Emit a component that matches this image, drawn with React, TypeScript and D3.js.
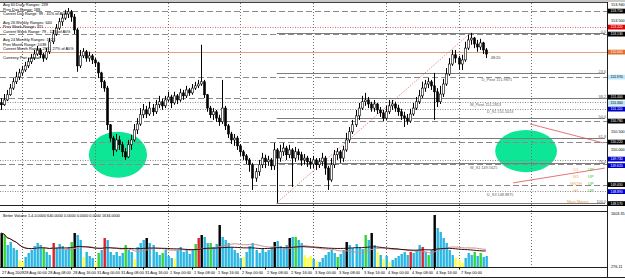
import React from "react";
import * as d3 from "d3";

const W = 625;
const H = 279;

// ---------- DATA ----------
const FIRST_OPEN = 151.27;
const CLOSE = [
  151.22, 151.35, 151.49, 151.67, 151.84, 151.97, 152.08, 152.16, 152.27, 152.38,
  152.48, 152.59, 152.70, 152.57, 152.48, 152.65, 152.92, 153.13, 153.29, 153.46,
  153.56, 153.67, 153.73, 153.59, 153.24, 152.27, 152.54, 152.65, 152.48, 152.54,
  152.43, 152.35, 152.08, 151.84, 151.67, 150.68, 150.32, 150.00, 150.27, 150.14,
  149.95, 149.81, 150.14, 150.27, 150.54, 150.70, 150.95, 151.08, 150.97, 151.13,
  151.03, 151.22, 151.30, 151.19, 151.35, 151.43, 151.27, 151.46, 151.35, 151.54,
  151.46, 151.62, 151.54, 151.67, 151.73, 151.78, 151.84, 151.49, 151.13, 150.95,
  151.03, 150.86, 150.76, 151.13, 150.65, 150.43, 150.27, 150.32, 150.11, 149.95,
  149.84, 149.73, 149.60, 149.24, 149.41, 149.60, 149.78, 149.68, 149.73, 149.57,
  150.00, 149.78, 149.95, 150.05, 149.87, 150.00, 149.78, 149.95, 149.87, 149.73,
  149.78, 149.68, 149.62, 149.73, 149.60, 149.68, 149.78, 149.51, 149.19, 149.60,
  149.87, 149.95, 149.78, 150.00, 150.27, 150.49, 150.68, 150.92, 151.13, 151.30,
  151.35, 151.24, 151.13, 151.24, 151.08, 151.00, 150.86, 151.03, 151.19, 151.24,
  151.13, 151.03, 150.92, 150.86, 150.78, 150.97, 151.13, 151.30, 151.46, 151.67,
  151.78, 151.84, 151.73, 151.57, 151.30, 151.51, 151.78, 152.05, 152.32, 152.57,
  152.48, 152.32, 152.43, 152.75, 152.97, 153.02, 152.86, 152.78, 152.89, 152.70,
  152.59,
];
const HIGH = [
  151.40, 151.51, 151.62, 151.78, 151.94, 152.11, 152.19, 152.27, 152.38, 152.48,
  152.59, 152.70, 152.81, 152.75, 152.62, 152.75, 153.02, 153.24, 153.40, 153.56,
  153.67, 153.78, 153.83, 153.78, 153.67, 153.29, 152.70, 152.75, 152.70, 152.65,
  152.59, 152.48, 152.38, 152.11, 151.89, 151.73, 150.70, 150.38, 150.43, 150.38,
  150.22, 150.05, 150.27, 150.41, 150.70, 150.86, 151.13, 151.24, 151.19, 151.30,
  151.24, 151.35, 151.46, 151.38, 151.46, 151.57, 151.49, 151.57, 151.51, 151.65,
  151.62, 151.73, 151.67, 151.78, 151.84, 151.89, 152.84, 151.89, 151.51, 151.19,
  151.13, 151.08, 150.95, 151.89, 151.19, 150.70, 150.49, 150.43, 150.38, 150.16,
  150.00, 149.89, 149.78, 149.65, 149.51, 149.73, 149.92, 149.87, 149.84, 149.78,
  150.19, 150.05, 150.14, 150.19, 150.11, 150.14, 150.05, 150.08, 150.03, 149.95,
  149.89, 149.84, 149.78, 149.84, 149.78, 149.78, 149.92, 149.84, 149.57, 149.78,
  150.00, 150.05, 150.00, 150.11, 150.46, 150.62, 150.81, 151.08, 151.27, 151.46,
  151.54, 151.43, 151.30, 151.35, 151.27, 151.16, 151.08, 151.19, 151.35, 151.35,
  151.30, 151.22, 151.11, 151.03, 150.97, 151.11, 151.27, 151.43, 151.62, 151.84,
  151.89, 151.94, 151.89, 152.08, 151.67, 151.73, 151.92, 152.21, 152.48, 152.70,
  152.70, 152.54, 152.57, 152.92, 153.11, 153.16, 153.05, 152.97, 153.00, 152.92,
  152.75,
];
const LOW = [
  151.08, 151.19, 151.32, 151.46, 151.62, 151.78, 151.89, 152.00, 152.11, 152.21,
  152.32, 152.43, 152.54, 152.48, 152.38, 152.43, 152.59, 152.86, 153.08, 153.24,
  153.35, 153.51, 153.56, 153.46, 153.13, 152.11, 152.21, 152.48, 152.38, 152.38,
  152.32, 152.24, 151.94, 151.67, 151.57, 150.54, 150.22, 149.84, 149.95, 150.00,
  149.81, 149.73, 149.78, 150.00, 150.22, 150.43, 150.65, 150.86, 150.86, 150.92,
  150.92, 150.97, 151.13, 151.08, 151.13, 151.30, 151.13, 151.22, 151.24, 151.30,
  151.35, 151.40, 151.46, 151.49, 151.62, 151.67, 151.73, 151.40, 151.03, 150.86,
  150.81, 150.76, 150.65, 150.70, 150.54, 150.32, 150.16, 150.11, 150.00, 149.84,
  149.73, 149.62, 149.41, 148.92, 149.14, 149.30, 149.51, 149.51, 149.57, 149.46,
  149.46, 148.57, 149.68, 149.84, 149.73, 149.78, 149.00, 149.68, 149.73, 149.57,
  149.60, 149.54, 149.49, 149.51, 149.46, 149.51, 149.57, 149.33, 148.92, 149.14,
  149.51, 149.73, 149.65, 149.68, 149.95, 150.19, 150.43, 150.62, 150.81, 151.08,
  151.19, 151.13, 151.03, 151.03, 150.97, 150.89, 150.78, 150.81, 150.97, 151.08,
  151.03, 150.92, 150.81, 150.62, 150.68, 150.73, 150.92, 151.08, 151.24, 151.40,
  151.57, 151.67, 151.62, 150.81, 151.16, 151.24, 151.43, 151.73, 152.00, 152.27,
  152.35, 152.16, 152.16, 152.38, 152.70, 152.84, 152.75, 152.65, 152.70, 152.59,
  152.48,
];

const VOLUME = [
  1126, 1076, 826, 901, 751, 701, 451, 401, 526, 626,
  701, 801, 876, 826, 751, 651, 576, 876, 751, 851,
  801, 701, 776, 901, 1126, 1076, 951, 526, 651, 551,
  501, 376, 626, 701, 1001, 951, 651, 576, 651, 551,
  626, 826, 701, 651, 476, 776, 876, 951, 1001, 876,
  826, 651, 576, 626, 701, 551, 501, 476, 701, 776,
  651, 726, 601, 701, 851, 1001, 1076, 1026, 876, 876,
  776, 851, 1326, 1026, 951, 876, 776, 701, 626, 501,
  526, 651, 801, 876, 701, 626, 751, 651, 701, 776,
  901, 926, 801, 726, 826, 1001, 1026, 1026, 951, 876,
  576, 501, 551, 476, 426, 401, 501, 576, 651, 701,
  626, 526, 601, 701, 901, 826, 751, 851, 776, 726,
  1076, 951, 1126, 826, 651, 576, 476, 551, 401, 451,
  501, 551, 601, 651, 576, 651, 626, 701, 826, 776,
  651, 576, 701, 1576, 1251, 1151, 1001, 876, 701, 576,
  501, 451, 376, 501, 626, 576, 651, 551, 626, 526,
  551,
];
// k = climax (black), g = churn (green), r = climax high (red), y = low volume (yellow), c = normal
const VOL_TYPE =
  "kgccccyycc" + "ccccgccrcc" + "cccgkccycc" + "cygcrccccc" + "cgccyccckc" +
  "cccgcccycc" + "ccccgrkccg" + "cckccccccc" + "yccccccccc" + "kcccckcgcc" +
  "yyycyccccc" + "cgcckccccc" + "gckcycycyc" + "cccccrcccr" + "cgckcccccc" +
  "yyycccgcgcc";

const TIME_LABELS = [
  "28 Aug 00:00", "28 Aug 08:00", "28 Aug 16:00",
  "31 Aug 00:00", "31 Aug 08:00", "31 Aug 16:00",
  "1 Sep 00:00", "1 Sep 08:00", "1 Sep 16:00",
  "2 Sep 00:00", "2 Sep 08:00", "2 Sep 16:00",
  "3 Sep 00:00", "3 Sep 08:00", "3 Sep 16:00",
  "4 Sep 00:00", "4 Sep 08:00", "4 Sep 16:00",
  "7 Sep 00:00",
];
const TIME_LABEL_BARS = [7, 15, 23, 31, 39, 47, 55, 63, 71, 79, 87, 95, 103, 111, 119, 127, 135, 143, 151];
const FIRST_TIME_LABEL = "27 Aug 2009";
const DAY_SEPARATOR_BARS = [7, 31, 55, 79, 103, 127, 151, 175];

const PIVOT_DASHED = [153.75, 153.13, 151.97, 151.40, 150.78, 150.22, 149.62, 149.05];
const PIVOT_DOTTED = [151.30, 151.11, 149.73, 148.89];
const RED_DOTTED_LEVEL = 153.32;
const BID_LEVEL = 152.65;

const FIB_LEVELS = [0, 23.6, 38.2, 50, 61.8, 76.4, 100];
const FIB_LEVEL_TEXT = ["0.0", "23.6", "38.2", "50.0", "61.8", "76.4", "100.0"];
const FIB_FROM = { bar: 91, price: 148.57 };
const FIB_TO = { bar: 155, price: 153.16 };

const TRENDLINES = [
  { bar1: 174.6, p1: 150.70, bar2: 198.7, p2: 150.19 },
  { bar1: 169.0, p1: 149.11, bar2: 199.3, p2: 149.51 },
];
const ELLIPSES = [
  { bar: 38.6, price: 149.87, rBars: 9.6, rPrice: 0.62 },
  { bar: 173.3, price: 149.97, rBars: 10.2, rPrice: 0.57 },
];

const INFO_LINES = [
  "Avg 60 Daily Ranges: 239",
  "Prev Day Range: 188",
  "Current Day Range: 99 - 41% of AVG",
  "Avg 26 Weekly Ranges: 640",
  "Prev Week Range: 371",
  "Current Week Range: 79 - 12% of AVG",
  "Avg 24 Monthly Ranges: 1623",
  "Prev Month Range: 1038",
  "Current Month Range: 283 - 27% of AVG",
  "Currency Pair spread: 3",
];

const PIVOT_LABELS = [
  { text: "D_Pivot 151.9875", bar: 158.7, price: 151.97 },
  { text: "W_Pivot 151.2813", bar: 154.8, price: 151.30 },
  { text: "D_S1 151.1013", bar: 160.4, price: 151.11 },
  { text: "W_S1 149.5625", bar: 154.8, price: 149.62 },
  { text: "D_S3 148.8875", bar: 160.4, price: 148.89 },
];
const TIMER_TEXT = "48:20";

const TREND_ROWS = ["D1", "W1", "MNTH", "H4"];
const TREND_STATE = ["UP", "UP", "UP", "UP"];
const TREND_TITLE = "Main Moves";

const VOL_TITLE = "Better Volume 1.4-0.0000 640.0000 0.0000 0.0000 0.0000 1634.0000";
const VOL_AXIS_LABELS = [1603.35, 276.11];

// ---------- LAYOUT ----------
const PLOT_RIGHT = 607;
const MAIN_TOP = 3;
const MAIN_BOTTOM = 205.5;
const VOL_TOP = 211.5;
const VOL_BOTTOM = 267.5;
const AXIS_BOTTOM = 277;
const FONT = "'Liberation Sans', Arial, sans-serif";

const VOL_COLORS: Record<string, string> = {
  c: "#2BB6E4",
  k: "#000000",
  g: "#33D633",
  r: "#E0202A",
  y: "#FFFF40",
};

function sma(arr: number[], n: number) {
  return arr.map((_, i) => {
    const s = Math.max(0, i - n + 1);
    return d3.mean(arr.slice(s, i + 1)) as number;
  });
}

export default function App() {
  const x = d3.scaleLinear().domain([0, 160]).range([1, 1 + 3.03 * 160]);
  const y = d3.scaleLinear().domain([148.54, 153.94]).range([204, 4]);
  const yv = d3.scaleLinear().domain([276, 1626]).range([267, 213]);
  const fmt = d3.format(".3f");

  const candles = CLOSE.map((c, i) => {
    const o = i === 0 ? FIRST_OPEN : CLOSE[i - 1];
    const h = Math.max(HIGH[i], o, c);
    const l = Math.min(LOW[i], o, c);
    return { i, o, c, h, l };
  });

  const fibPrice = (lv: number) => FIB_TO.price - (FIB_TO.price - FIB_FROM.price) * (lv / 100);

  const maSlow = sma(VOLUME, 60);
  const maFast = sma(VOLUME, 20);
  const line = d3
    .line<number>()
    .x((_, i) => x(i))
    .y((d) => yv(d));

  const markers: { p: number; bg: string; fg: string; dy: number }[] = [
    { p: 153.75, bg: "#000", fg: "#fff", dy: 0 },
    { p: RED_DOTTED_LEVEL, bg: "#E00000", fg: "#fff", dy: 0 },
    { p: 153.13, bg: "#000", fg: "#fff", dy: 0 },
    { p: BID_LEVEL, bg: "#E07030", fg: "#fff", dy: 0 },
    { p: 151.97, bg: "#BDE8FA", fg: "#000", dy: 0 },
    { p: 151.40, bg: "#000", fg: "#fff", dy: -1 },
    { p: 151.30, bg: "#BDE8FA", fg: "#000", dy: 1 },
    { p: 151.11, bg: "#0000C8", fg: "#fff", dy: 0 },
    { p: 150.78, bg: "#000", fg: "#fff", dy: 0 },
    { p: 150.22, bg: "#000", fg: "#fff", dy: 0 },
    { p: 149.73, bg: "#0000C8", fg: "#fff", dy: -1 },
    { p: 149.62, bg: "#0000C8", fg: "#fff", dy: 1.5 },
    { p: 149.05, bg: "#000", fg: "#fff", dy: -0.5 },
    { p: 148.89, bg: "#0000C8", fg: "#fff", dy: 0.5 },
    { p: 148.57, bg: "#000", fg: "#fff", dy: 0.5 },
  ];
  const markerYs = markers.map((m) => y(m.p));
  const ticks = [153.94, ...d3.range(149, 153.51, 0.5)].filter(
    (t) => markerYs.every((my) => Math.abs(my - y(t)) > 6.5)
  );

  return (
    <svg
      width={W}
      height={H}
      viewBox={`0 0 ${W} ${H}`}
      style={{ position: "absolute", left: 0, top: 0, background: "#fff" }}
      fontFamily={FONT}
    >
      <rect x={0} y={0} width={W} height={H} fill="#fff" />
      <rect x={0} y={0} width={W} height={2} fill="#C8C8C8" />

      {/* ellipses */}
      {ELLIPSES.map((e, k) => {
        const cx = x(e.bar);
        const rx = x(e.bar + e.rBars) - cx;
        const cy = y(e.price);
        const ry = y(e.price - e.rPrice) - cy;
        return <ellipse key={k} cx={cx} cy={cy} rx={rx} ry={ry} fill="#0DE695" />;
      })}

      {/* day separators */}
      {DAY_SEPARATOR_BARS.map((b, k) => (
        <line
          key={k}
          x1={Math.round(x(b)) + 0.5}
          x2={Math.round(x(b)) + 0.5}
          y1={MAIN_TOP}
          y2={VOL_BOTTOM}
          stroke="#707070"
          strokeWidth={1}
          strokeDasharray="1,2"
        />
      ))}

      {/* horizontal levels */}
      {PIVOT_DASHED.map((p, k) => (
        <line
          key={"d" + k}
          x1={0}
          x2={PLOT_RIGHT}
          y1={Math.round(y(p)) + 0.5}
          y2={Math.round(y(p)) + 0.5}
          stroke="#8A8A8A"
          strokeWidth={1}
          strokeDasharray="6,3"
        />
      ))}
      {PIVOT_DOTTED.map((p, k) => (
        <line
          key={"o" + k}
          x1={0}
          x2={PLOT_RIGHT}
          y1={Math.round(y(p)) + 0.5}
          y2={Math.round(y(p)) + 0.5}
          stroke="#8A8A8A"
          strokeWidth={1}
          strokeDasharray="1,1.5"
        />
      ))}
      <line
        x1={0}
        x2={PLOT_RIGHT}
        y1={Math.round(y(RED_DOTTED_LEVEL)) + 0.5}
        y2={Math.round(y(RED_DOTTED_LEVEL)) + 0.5}
        stroke="#D07070"
        strokeDasharray="1,1.5"
      />
      <line
        x1={0}
        x2={PLOT_RIGHT}
        y1={Math.round(y(BID_LEVEL)) + 0.5}
        y2={Math.round(y(BID_LEVEL)) + 0.5}
        stroke="#E0A080"
      />

      {/* fibonacci */}
      {FIB_LEVELS.map((lv, k) => {
        const yy = Math.round(y(fibPrice(lv))) + 0.5;
        return (
          <g key={"f" + k}>
            <line x1={x(FIB_FROM.bar)} x2={PLOT_RIGHT - 2} y1={yy} y2={yy} stroke="#7C7C7C" strokeWidth={1} />
            <text x={PLOT_RIGHT - 1} y={yy - 1} fontSize={3.8} textAnchor="end" fill="#606060">
              {FIB_LEVEL_TEXT[k]}
            </text>
          </g>
        );
      })}
      <line
        x1={x(FIB_FROM.bar)}
        y1={y(FIB_FROM.price)}
        x2={x(FIB_TO.bar)}
        y2={y(FIB_TO.price)}
        stroke="#E07070"
        strokeDasharray="1,1.5"
      />

      {/* trend lines */}
      {TRENDLINES.map((t, k) => (
        <line key={"t" + k} x1={x(t.bar1)} y1={y(t.p1)} x2={x(t.bar2)} y2={y(t.p2)} stroke="#E05050" strokeWidth={0.8} />
      ))}

      {/* candles */}
      {candles.map((d) => {
        const cx = Math.round(x(d.i));
        const top = y(Math.max(d.o, d.c));
        const bot = y(Math.min(d.o, d.c));
        const up = d.c >= d.o;
        return (
          <g key={"c" + d.i}>
            <line x1={cx + 0.5} x2={cx + 0.5} y1={y(d.h)} y2={y(d.l)} stroke="#000" strokeWidth={1} />
            <rect
              x={cx - 0.5}
              y={top}
              width={2}
              height={Math.max(0.8, bot - top)}
              fill={up ? "#fff" : "#000"}
              stroke="#000"
              strokeWidth={0.6}
            />
          </g>
        );
      })}

      {/* info text */}
      {INFO_LINES.map((t, k) => {
        const ys = [5, 9.5, 14, 22.5, 27, 31.5, 40, 44.5, 49, 58];
        return (
          <text key={"i" + k} x={3} y={ys[k] + 1.3} fontSize={3.9} fill="#000">
            {t}
          </text>
        );
      })}

      {/* pivot labels */}
      {PIVOT_LABELS.map((l, k) => (
        <text key={"p" + k} x={x(l.bar)} y={y(l.price) + 4.5} fontSize={3.8} fill="#606060">
          {l.text}
        </text>
      ))}
      <text x={x(160) + 5} y={y(CLOSE[CLOSE.length - 1]) + 5} fontSize={3.8} fill="#404040">
        {TIMER_TEXT}
      </text>

      {/* trend status block */}
      {TREND_ROWS.map((r, k) => (
        <g key={"r" + k}>
          <text x={576} y={170.5 + k * 7} fontSize={4} fill="#F0B060" textAnchor="middle">
            {r}
          </text>
          <text x={588} y={170.5 + k * 7} fontSize={4} fill="#30C030">
            {TREND_STATE[k]}
          </text>
        </g>
      ))}
      <text x={567} y={202.5} fontSize={4} fill="#E09A40">
        {TREND_TITLE}
      </text>

      {/* panel borders */}
      <line x1={0} x2={PLOT_RIGHT} y1={2.5} y2={2.5} stroke="#404040" />
      <line x1={0} x2={PLOT_RIGHT} y1={MAIN_BOTTOM} y2={MAIN_BOTTOM} stroke="#202020" />
      <line x1={0} x2={PLOT_RIGHT} y1={VOL_TOP} y2={VOL_TOP} stroke="#202020" />
      <line x1={0} x2={PLOT_RIGHT} y1={VOL_BOTTOM} y2={VOL_BOTTOM} stroke="#202020" />
      <line x1={0} x2={W} y1={AXIS_BOTTOM + 0.5} y2={AXIS_BOTTOM + 0.5} stroke="#202020" />
      <line x1={PLOT_RIGHT + 0.5} x2={PLOT_RIGHT + 0.5} y1={2} y2={AXIS_BOTTOM} stroke="#202020" />

      {/* volume panel */}
      <text x={3} y={216.5} fontSize={3.8} fill="#000">
        {VOL_TITLE}
      </text>
      {VOLUME.map((v, i) => (
        <rect
          key={"v" + i}
          x={Math.round(x(i)) - 0.5}
          y={yv(v)}
          width={2.4}
          height={267 - yv(v)}
          fill={VOL_COLORS[VOL_TYPE[i]]}
        />
      ))}
      <path d={line(maFast) as string} fill="none" stroke="#C89090" strokeWidth={1} />
      <path d={line(maSlow) as string} fill="none" stroke="#3A0A0A" strokeWidth={1} />

      {/* price axis */}
      {ticks.map((t, k) => (
        <text key={"a" + k} x={611} y={Math.max(5.5, y(t) + 1.4)} fontSize={3.8} fill="#000">
          {fmt(t)}
        </text>
      ))}
      {markers.map((m, k) => {
        const my = Math.round(y(m.p)) + m.dy;
        return (
          <g key={"m" + k}>
            <rect x={608} y={my - 2.3} width={17} height={4.8} fill={m.bg} />
            <text x={610.5} y={my + 1.3} fontSize={3.4} fill={m.fg}>
              {fmt(m.p)}
            </text>
          </g>
        );
      })}
      {VOL_AXIS_LABELS.map((v, k) => (
        <text key={"va" + k} x={611} y={yv(v) + 1.4} fontSize={3.8} fill="#000">
          {d3.format(".2f")(v)}
        </text>
      ))}

      {/* time axis */}
      <text x={2} y={274} fontSize={3.9} fill="#000">
        {FIRST_TIME_LABEL}
      </text>
      {TIME_LABEL_BARS.map((b, k) => (
        <g key={"tl" + k}>
          <line x1={Math.round(x(b)) + 0.5} x2={Math.round(x(b)) + 0.5} y1={VOL_BOTTOM} y2={VOL_BOTTOM + 2} stroke="#000" />
          <text x={Math.round(x(b)) + 2} y={274} fontSize={3.9} fill="#000">
            {TIME_LABELS[k]}
          </text>
        </g>
      ))}
    </svg>
  );
}
